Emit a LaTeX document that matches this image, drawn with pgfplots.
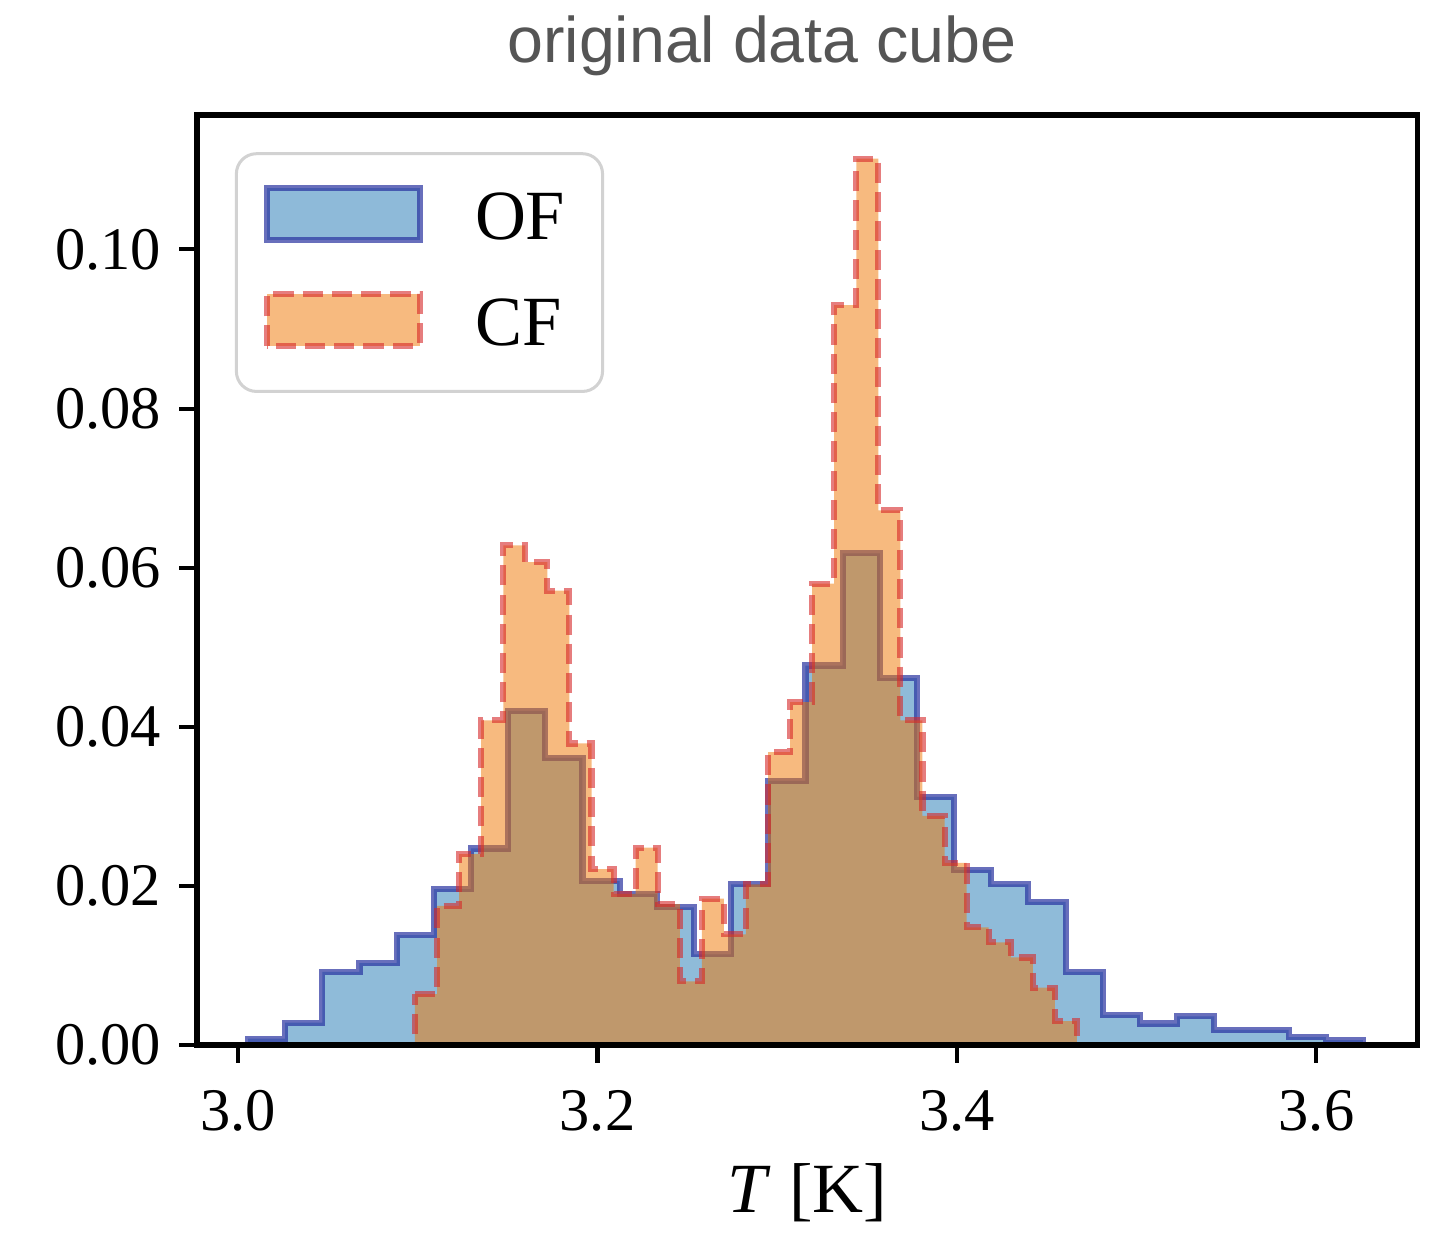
\documentclass[border=0pt]{standalone}
\usepackage{fontspec}
\setmainfont{Liberation Serif}
\newfontfamily\titlefont{Liberation Sans}
\usepackage{pgfplots}
\pgfplotsset{compat=1.18}
\definecolor{ofedge}{RGB}{40,50,160}
\definecolor{offill}{RGB}{31,119,180}
\definecolor{cfedge}{RGB}{214,39,40}
\definecolor{cffill}{RGB}{240,118,0}
\definecolor{titlegray}{RGB}{85,85,85}
\definecolor{legframe}{RGB}{210,210,210}
\begin{document}
\begin{tikzpicture}
\useasboundingbox (-1.374,-1.311) rectangle (8.627,7.288);
\begin{axis}[
  at={(0,0)}, anchor=south west,
  scale only axis, width=8.515cm, height=6.486cm,
  xmin=2.97719, xmax=3.65647, ymin=0, ymax=0.1169,
  xtick={3.0,3.2,3.4,3.6}, xticklabels={3.0,3.2,3.4,3.6},
  ytick={0,0.02,0.04,0.06,0.08,0.10},
  yticklabels={0.00,0.02,0.04,0.06,0.08,0.10},
  /pgf/number format/assume math mode=true,
  tick align=outside, major tick length=3.5pt,
  every tick/.style={black, line width=0.8pt},
  xtick pos=left, ytick pos=left,
  axis line style={line width=1pt},
  axis on top,
  ticklabel style={font=\fontsize{12}{14}\selectfont},
  xticklabel style={anchor=base, yshift=-0.47cm},
  yticklabel style={anchor=east, inner xsep=0pt, xshift=-0.12cm},
  xlabel={\textit{T} [K]},
  xlabel style={font=\fontsize{14}{16}\selectfont, at={(axis description cs:0.5,0)}, anchor=base, yshift=-1.165cm},
  legend style={at={(0.031,0.960)}, anchor=north west, draw=legframe, line width=0.6pt,
    rounded corners=4pt, fill=white, inner xsep=0.19cm, inner ysep=0.2cm,
    row sep=0.22cm, column sep=0.295cm, font=\fontsize{14}{16}\selectfont,
    cells={anchor=west}},
  legend image code/.code={\draw[sharp corners,#1] (0cm,-0.14cm) rectangle (1.067cm,0.22cm);},
]
\addplot[const plot, fill=offill, fill opacity=0.5, draw=ofedge, draw opacity=0.7,
  line width=1.2pt, line join=miter] coordinates {
(3.00556,0.0008) (3.02624,0.0028) (3.04691,0.0092) (3.06759,0.0103) (3.08827,0.0138)
(3.10895,0.0196) (3.12962,0.0247) (3.15030,0.0420) (3.17098,0.0361) (3.19165,0.0206)
(3.21233,0.0190) (3.23301,0.0173) (3.25368,0.0114) (3.27436,0.0202) (3.29504,0.0332)
(3.31572,0.0477) (3.33639,0.0618) (3.35707,0.0461) (3.37775,0.0312) (3.39842,0.0220)
(3.41910,0.0202) (3.43978,0.0180) (3.46045,0.0092) (3.48113,0.0038) (3.50181,0.0027)
(3.52249,0.0036) (3.54316,0.0019) (3.56384,0.0019) (3.58452,0.0010) (3.60519,0.0006)
(3.62587,0.0006)
} \closedcycle;
\addlegendentry{OF}
\addplot[const plot, fill=cffill, fill opacity=0.5, draw=cfedge, draw opacity=0.6,
  line width=1.2pt, line join=miter, dash pattern=on 4pt off 1.8pt] coordinates {
(3.09847,0.0064) (3.11075,0.0175) (3.12302,0.0240) (3.13530,0.0408) (3.14758,0.0628)
(3.15985,0.0607) (3.17213,0.0571) (3.18440,0.0379) (3.19668,0.0221) (3.20896,0.0190)
(3.22123,0.0248) (3.23351,0.0177) (3.24579,0.0080) (3.25806,0.0184) (3.27034,0.0139)
(3.28261,0.0202) (3.29489,0.0368) (3.30717,0.0431) (3.31944,0.0580) (3.33172,0.0930)
(3.34400,0.1114) (3.35627,0.0672) (3.36855,0.0408) (3.38082,0.0288) (3.39310,0.0229)
(3.40538,0.0148) (3.41765,0.0129) (3.42993,0.0110) (3.44221,0.0072) (3.45448,0.0030)
(3.46676,0.0030)
} \closedcycle;
\addlegendentry{CF}
\end{axis}
\node[anchor=base, font=\titlefont\fontsize{12.8}{15}\selectfont, text=titlegray] at (3.940,6.849) {original data cube};
\end{tikzpicture}
\end{document}
